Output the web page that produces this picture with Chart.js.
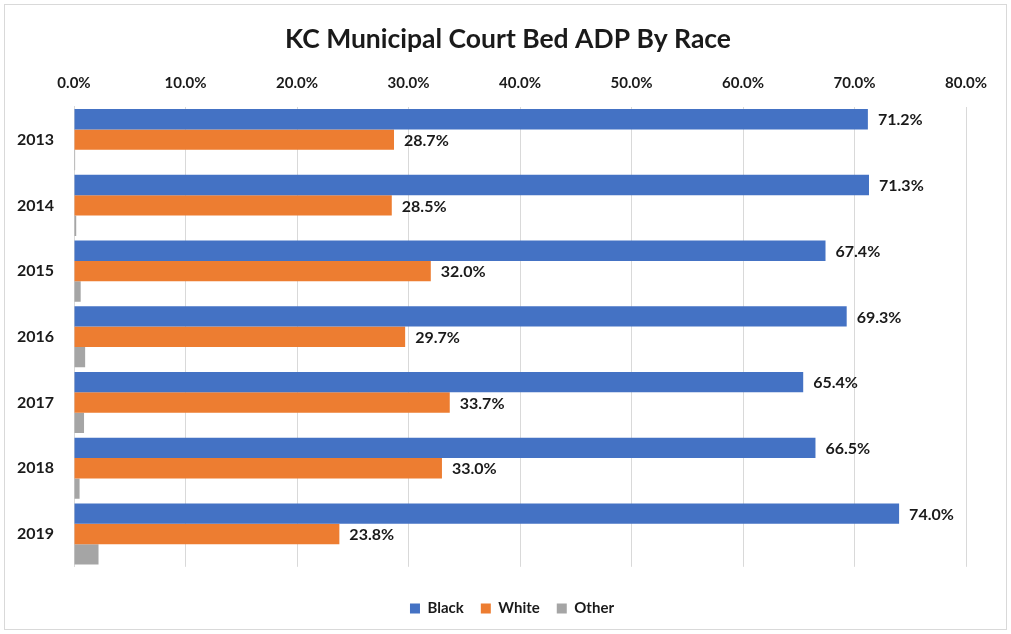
<!DOCTYPE html>
<html>
<head>
<meta charset="utf-8">
<script src="https://cdn.jsdelivr.net/npm/chart.js@4/dist/chart.umd.min.js"></script>
<style>
    html, body { margin: 0; padding: 0; background: #fff; }
    #wrap { position: absolute; left: 0; top: 0; width: 1011px; height: 634px; }
</style>
</head>
<body>
<div id="wrap"><canvas id="raceChart" width="1011" height="634"></canvas></div>
<script>
// Datos del gráfico
const years = ['2013', '2014', '2015', '2016', '2017', '2018', '2019'];
const blackPct = [71.2, 71.3, 67.4, 69.3, 65.4, 66.5, 74.0];
const whitePct = [28.7, 28.5, 32.0, 29.7, 33.7, 33.0, 23.8];
const otherPct = [0.1, 0.2, 0.6, 1.0, 0.9, 0.5, 2.2];

const FONT = 'Lato, "Open Sans", sans-serif';

// Etiquetas de valor a la derecha de las barras (solo Black y White)
const valueLabels = {
    id: 'valueLabels',
    afterDatasetsDraw(chart) {
        const ctx = chart.ctx;
        ctx.save();
        ctx.font = 'bold 16px ' + FONT;
        ctx.fillStyle = '#1a1a1a';
        ctx.textAlign = 'left';
        ctx.textBaseline = 'middle';
        [0, 1].forEach(i => {
            const meta = chart.getDatasetMeta(i);
            meta.data.forEach((bar, j) => {
                const v = chart.data.datasets[i].data[j];
                ctx.fillText(v.toFixed(1) + '%', bar.x + 10, bar.y + 1);
            });
        });
        ctx.restore();
    }
};

// Marco exterior y ajuste horizontal de título y leyenda
const frame = {
    id: 'frame',
    afterLayout(chart) {
        chart.legend.left += 22;
        chart.legend.right += 22;
        chart.titleBlock.left += 18;
        chart.titleBlock.right += 18;
    },
    beforeDraw(chart) {
        const ctx = chart.ctx;
        ctx.save();
        ctx.strokeStyle = '#d9d9d9';
        ctx.lineWidth = 1;
        ctx.strokeRect(4.5, 4.5, 1002, 625);
        ctx.restore();
    }
};

new Chart(document.getElementById('raceChart'), {
    type: 'bar',
    data: {
        labels: years,
        datasets: [
            { label: 'Black', data: blackPct, backgroundColor: '#4472C4' },
            { label: 'White', data: whitePct, backgroundColor: '#ED7D31' },
            { label: 'Other', data: otherPct, backgroundColor: '#A5A5A5' }
        ]
    },
    options: {
        indexAxis: 'y',
        responsive: false,
        animation: false,
        layout: { padding: { left: 14, right: 45, top: 0, bottom: 8 } },
        datasets: {
            bar: { categoryPercentage: 0.93, barPercentage: 1.0 }
        },
        plugins: {
            title: {
                display: true,
                text: 'KC Municipal Court Bed ADP By Race',
                color: '#1a1a1a',
                font: { family: FONT, size: 26.5, weight: 'bold' },
                padding: { top: 24, bottom: 8 }
            },
            legend: {
                position: 'bottom',
                title: { display: true, text: '', font: { size: 1 }, padding: { top: 16, bottom: 0 } },
                labels: {
                    color: '#1a1a1a',
                    font: { family: FONT, size: 15, weight: 'bold' },
                    boxWidth: 10,
                    boxHeight: 10,
                    padding: 17
                }
            },
            tooltip: { enabled: false }
        },
        scales: {
            x: {
                position: 'top',
                min: 0,
                max: 80,
                ticks: {
                    stepSize: 10,
                    color: '#1a1a1a',
                    font: { family: FONT, size: 15, weight: 'bold' },
                    padding: 15,
                    callback: v => v.toFixed(1) + '%'
                },
                grid: { color: '#d9d9d9', drawTicks: false },
                border: { display: false },
                afterFit: s => { s.height = 43; }
            },
            y: {
                ticks: {
                    color: '#1a1a1a',
                    font: { family: FONT, size: 16, weight: 'bold' },
                    padding: 12
                },
                grid: { display: false },
                border: { display: true, color: '#d9d9d9' },
                afterFit: s => { s.width = 60; }
            }
        }
    },
    plugins: [valueLabels, frame]
});
</script>
</body>
</html>
